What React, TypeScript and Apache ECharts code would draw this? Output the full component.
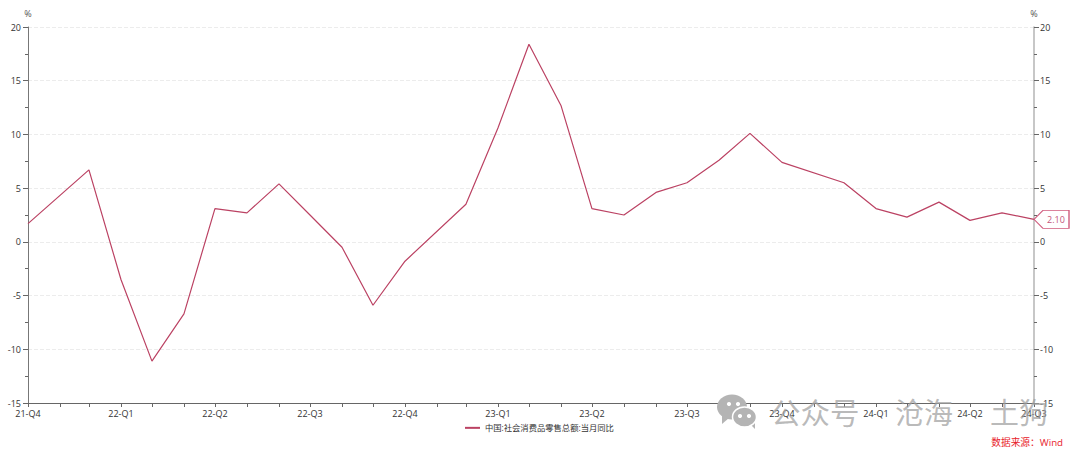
import React, { useEffect, useRef } from "react";
import * as echarts from "echarts";

const dates = ["2021-12-31","2022-02-28","2022-03-31","2022-04-30","2022-05-31","2022-06-30","2022-07-31","2022-08-31","2022-09-30","2022-10-31","2022-11-30","2022-12-31","2023-02-28","2023-03-31","2023-04-30","2023-05-31","2023-06-30","2023-07-31","2023-08-31","2023-09-30","2023-10-31","2023-11-30","2023-12-31","2024-02-29","2024-03-31","2024-04-30","2024-05-31","2024-06-30","2024-07-31","2024-08-31"];
const retailSales = [1.7,6.7,-3.5,-11.1,-6.7,3.1,2.7,5.4,2.5,-0.5,-5.9,-1.8,3.5,10.6,18.4,12.7,3.1,2.5,4.6,5.5,7.6,10.1,7.4,5.5,3.1,2.3,3.7,2.0,2.7,2.1];
const tickDates = ["2021-12-31","2022-01-31","2022-02-28","2022-03-31","2022-04-30","2022-05-31","2022-06-30","2022-07-31","2022-08-31","2022-09-30","2022-10-31","2022-11-30","2022-12-31","2023-01-31","2023-02-28","2023-03-31","2023-04-30","2023-05-31","2023-06-30","2023-07-31","2023-08-31","2023-09-30","2023-10-31","2023-11-30","2023-12-31","2024-01-31","2024-02-29","2024-03-31","2024-04-30","2024-05-31","2024-06-30","2024-07-31","2024-08-31"];
const labelDates = ["2021-12-31","2022-03-31","2022-06-30","2022-09-30","2022-12-31","2023-03-31","2023-06-30","2023-09-30","2023-12-31","2024-03-31","2024-06-30","2024-08-31"];
const labelTexts = ["21-Q4","22-Q1","22-Q2","22-Q3","22-Q4","23-Q1","23-Q2","23-Q3","23-Q4","24-Q1","24-Q2","24-Q3"];
const seriesName = "中国:社会消费品零售总额:当月同比";
const FONT = '"Open Sans","Noto Sans CJK SC",sans-serif';
const LINE = "#bb4263";
const WM = "rgba(160,160,160,0.72)";
const ICON = "#b4b4b4";

// day number on the horizontal value axis
const ts = (s: string) => {
  const [y, m, d] = s.split("-").map(Number);
  return Math.round(Date.UTC(y, m - 1, d) / 86400000);
};

const eye = (cx: number, cy: number) => ({ type: "circle", z: 52, shape: { cx, cy, r: 2.1 }, style: { fill: "#fff" } });

export default function App() {
  const ref = useRef<HTMLDivElement>(null);
  useEffect(() => {
    const chart = echarts.init(ref.current!, null, { renderer: "svg" });
    const yAxis = (position: string, color: string, width: number, margin: number) => ({
      type: "value", position, min: -15, max: 20, interval: 5,
      name: "%", nameLocation: "end", nameGap: 9,
      nameTextStyle: { color: "#555", fontSize: 9, fontFamily: FONT },
      axisLine: { show: true, lineStyle: { color, width } },
      axisTick: { show: true, length: 5, lineStyle: { color: "#666", width: 1 } },
      minorTick: { show: true, splitNumber: 2, length: 3, lineStyle: { color: "#666", width: 1 } },
      axisLabel: { color: "#333", fontSize: 9, margin, fontFamily: FONT, formatter: (v: number) => `${v}` },
      splitLine: { show: position === "left", lineStyle: { color: "#ececec", type: "dashed", width: 1 } },
    });
    const labelValues = labelDates.map(ts);
    chart.setOption({
      animation: false,
      backgroundColor: "#fff",
      grid: { left: 28, right: 46, top: 27, bottom: 54 },
      legend: {
        show: true, bottom: 20, left: 460, itemWidth: 15, itemHeight: 2,
        icon: "rect", itemGap: 4,
        textStyle: { color: "#333", fontSize: 8.3, fontFamily: FONT },
        data: [seriesName],
      },
      xAxis: {
        type: "value", min: ts(dates[0]), max: ts(dates[dates.length - 1]),
        axisLine: { onZero: false, lineStyle: { color: "#666", width: 1 } },
        axisTick: { show: true, length: 4, customValues: tickDates.map(ts), lineStyle: { color: "#666" } },
        axisLabel: {
          color: "#333", fontSize: 9, margin: 6, fontFamily: FONT, hideOverlap: false,
          showMinLabel: true, showMaxLabel: true,
          customValues: labelValues,
          formatter: (v: number) => labelTexts[labelValues.indexOf(v)] ?? "",
        },
        splitLine: { show: false },
      },
      yAxis: [yAxis("left", "#777", 1, 7), yAxis("right", "#b5b5b5", 1.5, 6)],
      series: [{
        name: seriesName, type: "line",
        data: dates.map((d, i) => [ts(d), retailSales[i]]),
        symbol: "none", lineStyle: { color: LINE, width: 1.2 }, itemStyle: { color: LINE },
        markPoint: {
          silent: true,
          data: [{ coord: [ts(dates[dates.length - 1]), retailSales[retailSales.length - 1]], value: retailSales[retailSales.length - 1] }],
          symbol: "path://M0 9 L9 0 L35 0 L35 18 L9 18 Z",
          symbolSize: [35, 18], symbolOffset: [17.5, 0],
          itemStyle: { color: "#fff", borderColor: "#cf5a7c", borderWidth: 1 },
          label: { show: true, position: "inside", offset: [4.5, 0], color: "#c4567a", fontSize: 9, fontFamily: FONT, formatter: (p: any) => Number(p.value).toFixed(2) },
        },
      }],
      graphic: [
        { type: "text", right: 17, top: 438, style: { text: "数据来源：Wind", fill: "#e8212b", fontSize: 9.7, fontFamily: FONT } },
        { type: "polygon", z: 50, shape: { points: [[722, 414], [729, 418], [722, 424]] }, style: { fill: ICON } },
        { type: "ellipse", z: 50, shape: { cx: 732, cy: 407, rx: 15, ry: 12.5 }, style: { fill: ICON } },
        { type: "polygon", z: 50, shape: { points: [[748, 422], [755, 429], [755, 419]] }, style: { fill: ICON } },
        { type: "ellipse", z: 51, shape: { cx: 744.5, cy: 417, rx: 12, ry: 10 }, style: { fill: ICON, stroke: "#fff", lineWidth: 1.5 } },
        eye(729, 404), eye(738, 404), eye(740, 416), eye(749, 416),
        { type: "text", x: 771, y: 398, z: 50, style: { text: "公众号", fill: WM, fontSize: 29.5, fontFamily: FONT } },
        { type: "text", x: 895, y: 398, z: 50, style: { text: "沧海", fill: WM, fontSize: 29, fontFamily: FONT } },
        { type: "text", x: 990, y: 398, z: 50, style: { text: "土狗", fill: WM, fontSize: 29, fontFamily: FONT } },
      ],
    });
    return () => chart.dispose();
  }, []);
  return <div ref={ref} style={{ width: 1080, height: 457, position: "absolute", left: 0, top: 0 }} />;
}
